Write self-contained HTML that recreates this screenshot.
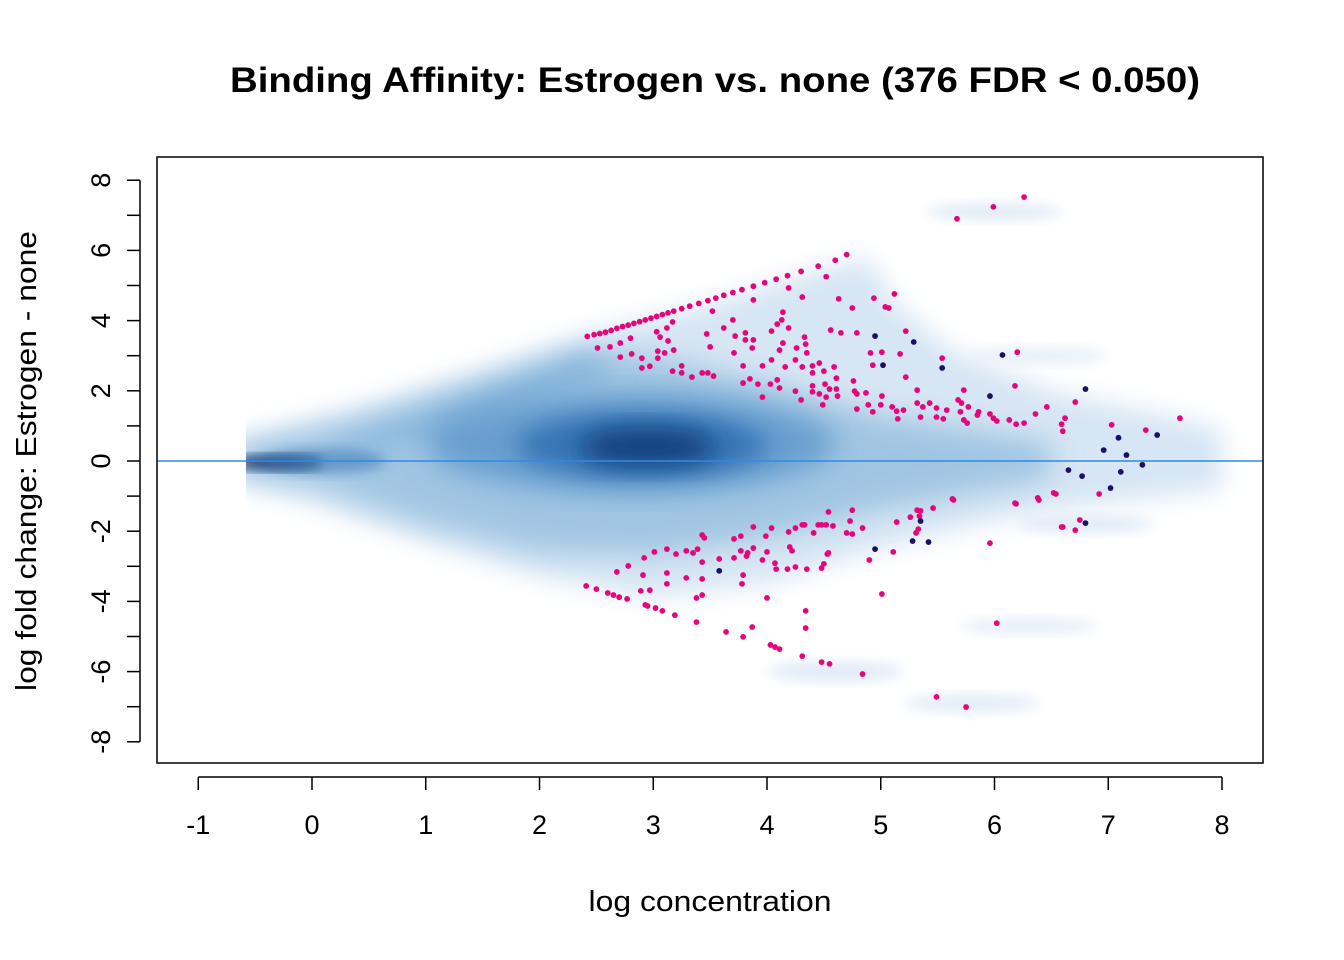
<!DOCTYPE html>
<html><head><meta charset="utf-8"><style>
html,body{margin:0;padding:0;background:#fff;}
svg{display:block;font-family:"Liberation Sans",Arial,sans-serif;}
</style></head><body>
<svg id="chart" width="1344" height="960" viewBox="0 0 1344 960" xmlns="http://www.w3.org/2000/svg">
<defs>
<filter id="b1" x="-20%" y="-20%" width="140%" height="140%"><feGaussianBlur stdDeviation="12"/></filter>
<filter id="b2" x="-20%" y="-20%" width="140%" height="140%"><feGaussianBlur stdDeviation="14"/></filter>
<filter id="b3" x="-40%" y="-40%" width="180%" height="180%"><feGaussianBlur stdDeviation="12"/></filter>
<filter id="b4" x="-30%" y="-30%" width="160%" height="160%"><feGaussianBlur stdDeviation="6"/></filter>
<clipPath id="clipL"><rect x="246" y="158" width="1016" height="604"/></clipPath>
</defs>
<rect x="0" y="0" width="1344" height="960" fill="#fff"/>
<g id="density" clip-path="url(#clipL)"></g>
<line id="zeroLine" stroke="#2e8ae6" stroke-width="1.6"/>
<g id="points"></g>
<rect x="157" y="157" width="1106" height="606" fill="none" stroke="#000" stroke-width="1.5"/>
<g id="axes"></g>
<text x="715" y="92" text-anchor="middle" font-size="35" font-weight="bold" textLength="970" lengthAdjust="spacingAndGlyphs">Binding Affinity: Estrogen vs. none (376 FDR &lt; 0.050)</text>
<text x="710" y="911" text-anchor="middle" font-size="29" textLength="243" lengthAdjust="spacingAndGlyphs">log concentration</text>
<text transform="translate(36,461) rotate(-90)" text-anchor="middle" font-size="29" textLength="460" lengthAdjust="spacingAndGlyphs">log fold change: Estrogen - none</text>
</svg>
<script>
const xTicks=[-1,0,1,2,3,4,5,6,7,8];
const yTicks=[-8,-7,-6,-5,-4,-3,-2,-1,0,1,2,3,4,5,6,7,8];
const yTickLabels=[-8,-6,-4,-2,0,2,4,6,8];
// significant sites (magenta)
const sigX=[2.42,2.48,2.53,2.58,2.63,2.68,2.73,2.78,2.83,2.88,2.93,2.98,3.03,3.08,3.13,3.18,3.25,3.32,3.4,3.48,3.55,3.62,3.7,3.78,3.88,3.98,4.08,4.18,4.3,4.45,4.6,4.7,
2.51,2.62,2.71,2.8,2.71,2.81,2.9,2.9,2.97,3.03,3.06,3.13,3.04,3.1,3.18,3.04,3.12,3.17,3.17,3.25,3.25,3.34,3.43,3.48,3.53,3.47,3.5,3.52,3.62,3.7,3.72,3.71,3.79,3.81,3.81,3.88,3.87,3.88,3.79,3.85,3.92,3.96,3.96,4.03,4.04,4.04,4.09,4.11,4.09,4.13,4.14,4.14,4.11,4.16,4.19,4.19,4.25,4.25,4.26,4.3,4.31,4.31,4.33,4.34,4.35,4.4,4.4,4.4,4.4,4.46,4.46,4.5,4.49,4.51,4.52,4.55,4.52,4.56,4.59,4.61,4.61,4.62,4.63,4.65,4.75,4.76,4.77,4.79,4.79,4.79,4.87,4.89,4.91,4.93,4.93,4.94,5.01,5.01,5.0,5.04,5.07,5.12,5.1,5.14,5.15,5.2,5.17,5.22,5.22,5.32,5.32,5.35,5.37,5.43,5.49,5.49,5.54,5.55,5.58,5.68,5.71,5.7,5.73,5.77,5.73,5.76,5.85,5.86,5.96,5.99,6.02,6.13,6.18,6.2,6.19,6.26,6.36,6.46,6.62,6.59,6.6,
5.67,5.99,6.26,6.71,7.03,7.63,7.33,6.92,6.75,6.71,6.59,6.52,6.38,6.18,5.63,
2.41,2.5,2.6,2.65,2.7,2.77,2.68,2.78,2.92,3.01,3.12,3.2,3.29,3.35,3.39,3.43,3.45,2.91,2.89,2.97,2.93,2.95,3.02,3.08,3.19,3.12,3.12,3.29,3.43,3.43,3.38,3.38,3.43,3.58,3.71,3.77,3.71,3.77,3.82,3.83,3.88,3.88,3.79,3.78,3.64,3.79,3.87,4.0,3.96,3.99,4.0,4.04,4.07,4.08,4.18,4.19,4.2,4.22,4.25,4.25,4.31,4.33,4.35,4.41,4.45,4.48,4.52,4.58,4.54,4.54,4.53,4.5,4.48,4.34,4.34,4.03,4.07,4.11,4.31,4.48,4.55,4.84,4.7,4.75,4.73,4.75,4.84,4.9,5.01,5.11,5.14,5.26,5.32,5.35,5.34,5.33,5.31,5.46,5.64,5.49,5.75,5.96,6.02,6.19,6.39,6.54,6.6];
const sigY=[3.55,3.6,3.63,3.67,3.72,3.78,3.83,3.87,3.92,3.97,4.02,4.07,4.12,4.17,4.22,4.27,4.34,4.41,4.49,4.57,4.64,4.72,4.8,4.88,4.98,5.08,5.18,5.28,5.4,5.55,5.72,5.88,
3.22,3.25,3.36,3.5,2.96,3.05,2.93,2.65,2.7,3.68,3.53,3.42,3.13,3.08,3.16,2.93,3.79,3.96,2.56,2.71,2.51,2.39,2.51,2.51,2.42,3.62,3.25,4.27,3.79,4.02,3.56,3.08,2.71,3.65,3.45,3.45,3.22,4.59,2.22,2.34,2.19,2.71,1.82,2.19,3.7,2.88,3.9,2.08,2.31,4.02,4.24,3.36,3.16,2.68,3.79,4.93,1.99,2.88,3.22,1.74,4.67,2.68,3.53,3.33,3.08,2.51,2.71,2.14,1.97,2.79,1.91,2.56,1.6,2.19,1.82,2.05,5.25,3.73,2.68,2.05,2.36,1.85,4.62,3.65,4.36,2.28,1.99,1.91,1.48,3.65,1.94,1.6,3.08,2.73,1.4,4.64,3.1,1.85,1.6,4.39,4.36,4.76,1.54,1.42,1.2,1.45,3.05,3.7,2.39,2.02,1.65,1.25,1.54,1.65,1.51,1.25,2.93,1.2,1.45,1.74,1.65,1.4,2.02,1.54,1.17,1.08,1.31,1.4,1.34,1.22,1.14,1.17,2.14,3.1,1.05,1.08,1.34,1.54,1.22,1.05,0.85,
6.9,7.24,7.52,1.68,1.03,1.22,0.88,-0.94,-1.68,-1.97,-1.88,-0.91,-1.05,-1.2,-1.08,
-3.56,-3.65,-3.76,-3.82,-3.88,-3.93,-3.16,-2.99,-2.76,-2.59,-2.51,-2.65,-2.56,-2.62,-2.51,-2.11,-2.19,-3.25,-3.7,-3.68,-4.1,-4.13,-4.19,-4.27,-4.39,-3.19,-3.5,-3.33,-3.36,-3.82,-3.9,-4.59,-2.88,-2.79,-2.22,-2.14,-2.76,-2.56,-2.71,-2.62,-2.48,-1.88,-3.25,-3.5,-4.87,-5.01,-4.73,-3.9,-2.82,-2.14,-2.59,-1.91,-2.91,-3.08,-3.08,-2.02,-2.45,-2.56,-1.91,-3.02,-1.82,-1.82,-3.08,-2.05,-1.82,-1.82,-1.82,-1.85,-1.45,-2.62,-2.65,-2.93,-3.05,-4.27,-4.76,-5.24,-5.3,-5.36,-5.56,-5.73,-5.78,-6.07,-2.05,-2.08,-1.71,-1.4,-1.91,-2.82,-3.79,-2.59,-1.74,-1.6,-1.4,-1.42,-1.57,-1.94,-2.05,-1.34,-1.11,-6.72,-7.01,-2.34,-4.62,-1.22,-1.11,-0.94,-1.88];
// non-significant highlighted sites (navy)
const nsX=[4.95,5.29,5.02,5.54,6.07,5.96,6.8,7.09,6.96,7.43,7.16,6.65,6.77,7.11,7.3,7.02,6.8,3.58,4.95,5.35,5.28,5.42];
const nsY=[3.56,3.39,2.73,2.65,3.02,1.85,2.05,0.66,0.31,0.74,0.17,-0.26,-0.43,-0.31,-0.11,-0.77,-1.77,-3.13,-2.51,-1.71,-2.28,-2.31];

function sx(v){return 312+113.75*v;}
function sy(v){return 461-35.1*v;}
const NS='http://www.w3.org/2000/svg';
function mk(tag,attrs,parent){const e=document.createElementNS(NS,tag);for(const k in attrs)e.setAttribute(k,attrs[k]);parent.appendChild(e);return e;}

const dens=document.getElementById('density');
const env1=[[-0.7,0.55],[0.5,1.6],[1.5,2.6],[2.4,3.6],[3.5,4.5],[4.5,5.5],[4.9,5.8],[5.1,4.6],[5.6,3.2],[6.5,2.0],[7.5,1.3],[8.0,0.9],[8.0,-0.8],[7,-1.2],[6,-1.7],[5,-2.5],[4,-3.5],[3,-3.9],[2,-3.3],[1,-2.3],[0,-1.2],[-0.7,-0.55]];
const env2=[[-0.7,0.4],[0.3,1.1],[1,1.8],[2.4,3.2],[3,3.0],[4,2.2],[5,1.3],[6,0.8],[6.5,0.5],[6.5,-0.5],[6,-0.8],[5,-1.4],[4,-2.2],[3,-2.7],[2,-2.6],[1,-1.8],[0,-0.7],[-0.7,-0.4]];
const arm=[[0.2,0.5],[1,1.3],[2.4,3.0],[2.7,2.6],[1.2,0.9],[0.2,0.25]];
function poly(pts,fill,op,filt,name){
  const p=mk('polygon',{points:pts.map(q=>sx(q[0])+','+sy(q[1])).join(' '),fill:fill,'fill-opacity':op,filter:'url(#'+filt+')'},dens);
  
  
}
poly(env1,'#d3e3f3',0.9,'b1','density-outer');
poly(env2,'#97bfe0',0.85,'b2','density-mid');
poly(arm,'#6ea6d4',0.6,'b1','density-upper-arm');
function ell(cx,cy,rx,ry,fill,op,filt,name){
  const e=mk('ellipse',{cx:sx(cx),cy:sy(cy),rx:rx*113.75,ry:ry*35.1,fill:fill,'fill-opacity':op,filter:'url(#'+filt+')'},dens);
  
  
}
ell(2.8,0.5,1.8,1.4,'#5b95cb',0.8,'b2','density-core-wide');
ell(2.9,0.45,1.1,0.95,'#2f6fb0',0.85,'b3','density-core-outer');
ell(2.95,0.4,0.6,0.55,'#0c3a78',0.9,'b3','density-core');
ell(-0.3,-0.05,0.4,0.2,'#0a2c60',0.95,'b4','density-left-core');
ell(0.1,0.0,0.55,0.35,'#3a78b5',0.55,'b4','density-left-halo');
ell(6.0,7.1,0.6,0.25,'#dfeaf6',0.9,'b4','density-streak');
ell(5.8,-6.9,0.6,0.25,'#dfeaf6',0.9,'b4','density-streak');
ell(6.3,-4.7,0.6,0.22,'#e2ecf7',0.9,'b4','density-streak');
ell(4.6,-6.0,0.6,0.3,'#dfeaf6',0.9,'b4','density-streak');
ell(6.8,-1.8,0.6,0.25,'#dde9f5',0.9,'b4','density-streak');
ell(6.4,3.0,0.6,0.25,'#e6eef8',0.9,'b4','density-streak');

const zl=document.getElementById('zeroLine');
zl.setAttribute('x1',157);zl.setAttribute('x2',1263);zl.setAttribute('y1',sy(0));zl.setAttribute('y2',sy(0));

const pg=document.getElementById('points');
for(let i=0;i<sigX.length;i++){
  const c=mk('circle',{cx:sx(sigX[i]),cy:sy(sigY[i]),r:2.9,fill:'#e6067c'},pg);
  
  
}
for(let i=0;i<nsX.length;i++){
  const c=mk('circle',{cx:sx(nsX[i]),cy:sy(nsY[i]),r:2.9,fill:'#1c0f66'},pg);
  
  
}

const ax=document.getElementById('axes');
const xl=mk('line',{x1:sx(xTicks[0]),x2:sx(xTicks[xTicks.length-1]),y1:777,y2:777,stroke:'#000','stroke-width':1.5},ax);


xTicks.forEach(v=>{
  const t=mk('line',{x1:sx(v),x2:sx(v),y1:777,y2:790,stroke:'#000','stroke-width':1.5},ax);
  
  
  const l=mk('text',{x:sx(v),y:834,'text-anchor':'middle','font-size':27},ax);
  l.textContent=String(v);
  
  
});
const yl=mk('line',{x1:140,x2:140,y1:sy(yTicks[0]),y2:sy(yTicks[yTicks.length-1]),stroke:'#000','stroke-width':1.5},ax);


yTicks.forEach(v=>{
  const t=mk('line',{x1:127,x2:140,y1:sy(v),y2:sy(v),stroke:'#000','stroke-width':1.5},ax);
  
  
});
yTickLabels.forEach(v=>{
  const l=mk('text',{transform:'translate(110,'+sy(v)+') rotate(-90)','text-anchor':'middle','font-size':27},ax);
  l.textContent=String(v);
  
  
});
</script>
</body></html>
